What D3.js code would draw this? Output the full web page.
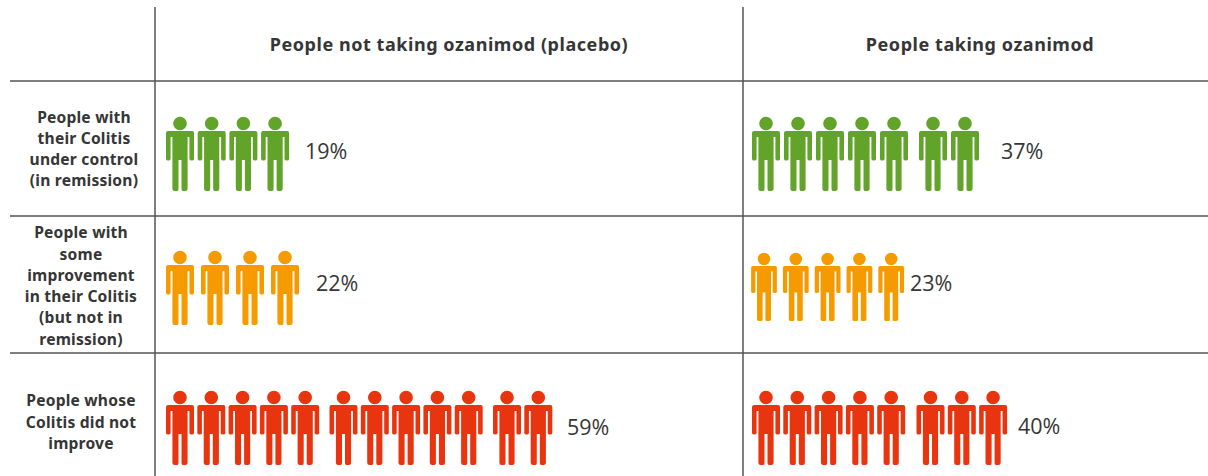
<!DOCTYPE html>
<html>
<head>
<meta charset="utf-8">
<script src="https://d3js.org/d3.v7.min.js"></script>
<style>
    html, body { margin: 0; padding: 0; background: #fff; overflow: hidden; }
    text { font-family: "Open Sans", sans-serif; fill: #363636; }
    .head { font-family: "Noto Sans", sans-serif; font-weight: bold; font-size: 18px; letter-spacing: 0.55px; }
    .rowlabel { font-family: "Noto Sans", sans-serif; font-weight: bold; font-size: 15.6px; letter-spacing: 0.2px; }
    .pct { font-size: 21.5px; }
</style>
</head>
<body>
<svg id="chart" width="1208" height="476"></svg>
<script>
    // each icon stands for 5% of people, icons are bunched in fives
    const columns = ['People not taking ozanimod (placebo)', 'People taking ozanimod'];
    const rows = ['control', 'some', 'none'];
    const rowLabels = [
        ['People with', 'their Colitis', 'under control', '(in remission)'],
        ['People with', 'some', 'improvement', 'in their Colitis', '(but not in', 'remission)'],
        ['People whose', 'Colitis did not', 'improve']
    ];
    const placebo = [19, 22, 59];
    const ozanimod = [37, 23, 40];
    const perIcon = 5;
    const bunch = 5;

    const rowColor = d3.scaleOrdinal().domain(rows).range(['#62a32a', '#f59b00', '#e83510']);

    // row bands, the first band is the header
    const yLines = d3.scaleOrdinal().domain(['top', 'header', ...rows]).range([7, 81, 216, 353, 476]);
    const svg = d3.select('#chart');

    const lines = svg.append('g').attr('stroke', '#555').attr('stroke-width', 1.5);
    [155, 743].forEach(function(x) {
        lines.append('line').attr('x1', x).attr('x2', x).attr('y1', yLines('top')).attr('y2', 476);
    });
    ['header', 'control', 'some'].forEach(function(k) {
        lines.append('line').attr('x1', 10).attr('x2', 1208).attr('y1', yLines(k)).attr('y2', yLines(k));
    });

    svg.selectAll('.head').data(columns).join('text')
        .attr('class', 'head')
        .attr('x', function(d, i) { return [449, 980][i]; })
        .attr('y', 51)
        .attr('text-anchor', 'middle')
        .text(function(d) { return d; });

    const labelMid = [150, 287, 423];
    rowLabels.forEach(function(lab, r) {
        const step = 21.3;
        const top = labelMid[r] - (lab.length - 1) * step / 2;
        svg.selectAll('.l' + r).data(lab).join('text')
            .attr('class', 'rowlabel l' + r)
            .attr('x', r == 0 ? 84 : 81)
            .attr('y', function(d, i) { return top + i * step + 4.5; })
            .attr('text-anchor', 'middle')
            .text(function(d) { return d; });
    });

    // person drawn in its own units: 28 wide, 74 tall, x=0 at the middle, y=0 at top of head
    function personPath() {
        const p = d3.path();
        p.moveTo(6.8, 6.5);
        p.arc(0, 6.5, 6.8, 0, Math.PI * 2);
        p.closePath();
        p.moveTo(-12, 14);
        p.lineTo(12, 14);
        p.quadraticCurveTo(14, 14, 14, 16);
        p.lineTo(14, 42);
        p.quadraticCurveTo(14, 43.5, 11.8, 43.5);
        p.quadraticCurveTo(9.4, 43.5, 9.4, 42);
        p.lineTo(9.4, 20);
        p.lineTo(7.6, 20);
        p.lineTo(7.6, 72);
        p.quadraticCurveTo(7.6, 74, 5.2, 74);
        p.lineTo(3, 74);
        p.quadraticCurveTo(1.5, 74, 1.5, 72);
        p.lineTo(1.5, 43);
        p.lineTo(-1.5, 43);
        p.lineTo(-1.5, 72);
        p.quadraticCurveTo(-1.5, 74, -3, 74);
        p.lineTo(-5.2, 74);
        p.quadraticCurveTo(-7.6, 74, -7.6, 72);
        p.lineTo(-7.6, 20);
        p.lineTo(-9.4, 20);
        p.lineTo(-9.4, 42);
        p.quadraticCurveTo(-9.4, 43.5, -11.8, 43.5);
        p.quadraticCurveTo(-14, 43.5, -14, 42);
        p.lineTo(-14, 16);
        p.quadraticCurveTo(-14, 14, -12, 14);
        p.closePath();
        return p.toString();
    }
    const person = personPath();

    // how each cell of the table was laid out in the source
    const cellLayout = [
        [{ x0: 180, dx: 31.7, gap: 0, top: 117, k: 1, labelX: 305, labelY: 159 },
         { x0: 180, dx: 35, gap: 0, top: 251, k: 1, labelX: 316, labelY: 291 },
         { x0: 180, dx: 31.3, gap: 7, top: 391, k: 1, labelX: 567, labelY: 435 }],
        [{ x0: 766, dx: 32, gap: 7, top: 117, k: 1, labelX: 1001, labelY: 159 },
         { x0: 764, dx: 31.8, gap: 0, top: 253, k: 0.92, labelX: 910, labelY: 291 },
         { x0: 766, dx: 31.3, gap: 8, top: 391, k: 1, labelX: 1018, labelY: 434 }]
    ];

    [placebo, ozanimod].forEach(function(series, c) {
        series.forEach(function(v, r) {
            const lay = cellLayout[c][r];
            const icons = d3.range(Math.round(v / perIcon));
            const g = svg.append('g');
            g.selectAll('path').data(icons).join('path')
                .attr('d', person)
                .attr('fill', rowColor(rows[r]))
                .attr('transform', function(i) {
                    const x = lay.x0 + i * lay.dx + Math.floor(i / bunch) * lay.gap;
                    return 'translate(' + x + ',' + lay.top + ') scale(' + lay.k + ')';
                });
            g.append('text')
                .attr('class', 'pct')
                .attr('x', lay.labelX)
                .attr('y', lay.labelY)
                .text(v + '%');
        });
    });
</script>
</body>
</html>
